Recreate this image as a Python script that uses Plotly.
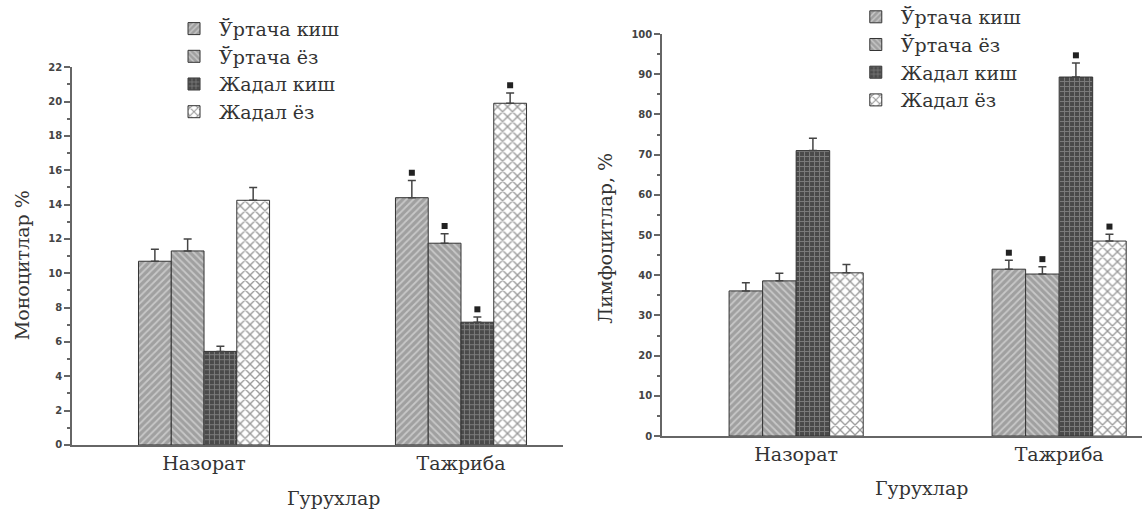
import plotly.graph_objects as go

# ---------------- data ----------------
groups = ["Назорат", "Тажриба"]
series = ["Ўртача киш", "Ўртача ёз", "Жадал киш", "Жадал ёз"]

# Left chart: Моноцитлар %  (per series: [Назорат, Тажриба])
mono_vals = [[10.7, 14.4], [11.3, 11.75], [5.45, 7.15], [14.25, 19.9]]
mono_err = [[0.7, 1.0], [0.7, 0.55], [0.3, 0.3], [0.75, 0.6]]
mono_sig = [[False, True], [False, True], [False, True], [False, True]]

# Right chart: Лимфоцитлар, %
lymph_vals = [[36.1, 41.5], [38.6, 40.3], [71.0, 89.3], [40.6, 48.5]]
lymph_err = [[2.0, 2.2], [1.9, 1.8], [3.1, 3.5], [2.1, 1.7]]
lymph_sig = [[False, True], [False, True], [False, True], [False, True]]

left_ticks = list(range(0, 23, 2))
right_ticks = list(range(0, 101, 10))

# ---------------- styles ----------------
patterns = [
    dict(shape="/", bgcolor="#a0a0a0", fgcolor="#f0f0f0", size=5, solidity=0.35),
    dict(shape="\\", bgcolor="#a0a0a0", fgcolor="#f0f0f0", size=5, solidity=0.35),
    dict(shape="+", bgcolor="#4a4a4a", fgcolor="#b0b0b0", size=5, solidity=0.35),
    dict(shape="x", bgcolor="#ffffff", fgcolor="#333333", size=7, solidity=0.35),
]
BARGAP = 0.49
NS = len(series)
w = (1 - BARGAP) / NS
x_num = [0, 1]

serif = "DejaVu Serif"
fig = go.Figure()

def add_chart(vals, errs, sigs, xa, ya, legend, star_off):
    for i, name in enumerate(series):
        fig.add_trace(go.Bar(
            x=x_num, y=vals[i], name=name,
            xaxis=xa, yaxis=ya, legend=legend,
            marker=dict(color=patterns[i]["bgcolor"], pattern=patterns[i],
                        line=dict(color="#333333", width=1)),
            error_y=dict(type="data", array=errs[i], arrayminus=[0, 0],
                         symmetric=False, color="#444444", thickness=1.5, width=4),
        ))
    sx, sy = [], []
    for i in range(NS):
        for g in range(len(groups)):
            if sigs[i][g]:
                sx.append(x_num[g] + (i - (NS - 1) / 2) * w)
                sy.append(vals[i][g] + errs[i][g] + star_off)
    fig.add_trace(go.Scatter(x=sx, y=sy, mode="markers", xaxis=xa, yaxis=ya,
                             marker=dict(symbol="square", size=6, color="#222222"),
                             showlegend=False, hoverinfo="skip"))

add_chart(mono_vals, mono_err, mono_sig, "x", "y", "legend", 0.45)
add_chart(lymph_vals, lymph_err, lymph_sig, "x2", "y2", "legend2", 1.9)

axis_common = dict(showline=True, linecolor="#666666", linewidth=1.5,
                   showgrid=False, zeroline=False, automargin=False)
ytick_font = dict(family="DejaVu Sans", size=10, color="#444444", weight="bold")
xtick_font = dict(family=serif, size=19, color="#333333")
title_font = dict(family=serif, size=19, color="#333333")

fig.update_layout(
    width=1142, height=513,
    margin=dict(l=0, r=0, t=0, b=0, autoexpand=False),
    paper_bgcolor="white", plot_bgcolor="white",
    barmode="group", bargap=BARGAP, bargroupgap=0,
    xaxis=dict(domain=[0.063, 0.493], range=[-0.514, 1.397], tickvals=x_num,
               ticktext=groups, ticks="", tickfont=xtick_font,
               anchor="y", **axis_common),
    yaxis=dict(domain=[0.1326, 0.869], range=[0, 22], tickvals=left_ticks,
               ticks="outside", ticklen=6, tickcolor="#666666", tickwidth=1.5,
               minor=dict(dtick=1, ticks="outside", ticklen=3, tickcolor="#666666"),
               tickfont=ytick_font, anchor="x", **axis_common),
    xaxis2=dict(domain=[0.5797, 1.0], range=[-0.51, 1.315], tickvals=x_num,
                ticktext=groups, ticks="", tickfont=xtick_font,
                anchor="y2", **axis_common),
    yaxis2=dict(domain=[0.150, 0.9337], range=[0, 100], tickvals=right_ticks,
                ticks="outside", ticklen=6, tickcolor="#666666", tickwidth=1.5,
                minor=dict(dtick=5, ticks="outside", ticklen=3, tickcolor="#666666"),
                tickfont=ytick_font, anchor="x2", **axis_common),
    legend=dict(x=0.148, y=0.981, xanchor="left", yanchor="top",
                font=dict(family=serif, size=19, color="#333333"),
                bgcolor="rgba(0,0,0,0)", tracegroupgap=0, itemwidth=40),
    legend2=dict(x=0.745, y=1.004, xanchor="left", yanchor="top",
                 font=dict(family=serif, size=19, color="#333333"),
                 bgcolor="rgba(0,0,0,0)", tracegroupgap=0, itemwidth=40),
    annotations=[
        dict(text="Моноцитлар %", x=0.0193, y=0.483, xref="paper", yref="paper",
             xanchor="center", yanchor="middle",
             textangle=-90, showarrow=False, font=title_font),
        dict(text="Гурухлар", x=0.2916, y=0.029, xref="paper", yref="paper",
             xanchor="center", yanchor="middle",
             showarrow=False, font=title_font),
        dict(text="Лимфоцитлар, %", x=0.529, y=0.535, xref="paper", yref="paper",
             xanchor="center", yanchor="middle",
             textangle=-90, showarrow=False, font=title_font),
        dict(text="Гурухлар", x=0.807, y=0.0487, xref="paper", yref="paper",
             xanchor="center", yanchor="middle",
             showarrow=False, font=title_font),
    ],
)

fig.write_html("out.html")
